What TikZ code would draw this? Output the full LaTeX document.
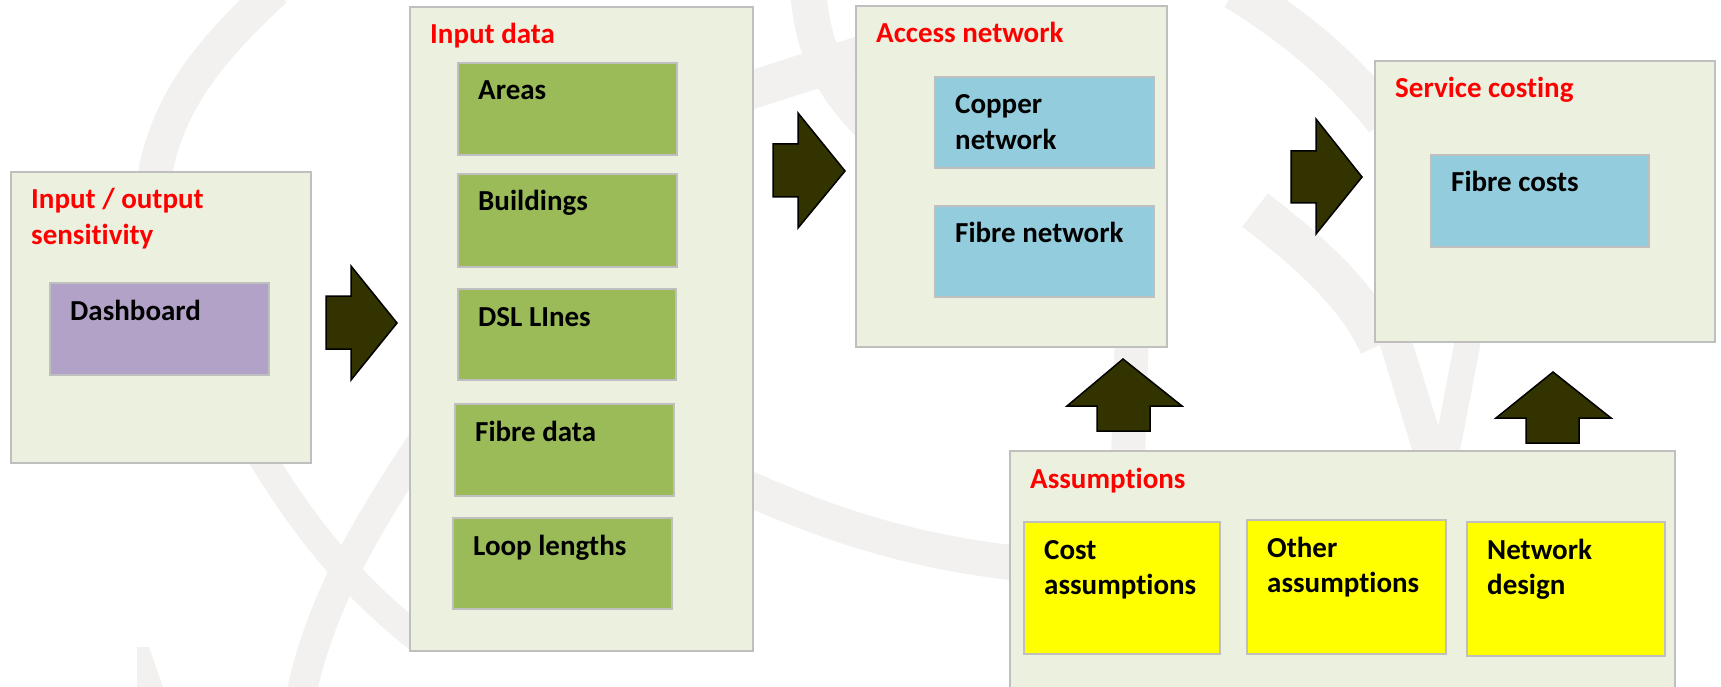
\documentclass[tikz,border=0pt]{standalone}
\usepackage{fontspec}
\setmainfont{Carlito}[Ligatures=NoCommon]

\definecolor{panelfill}{HTML}{EBF0DF}
\definecolor{boxline}{HTML}{BFBFBF}
\definecolor{datagreen}{HTML}{9BBB59}
\definecolor{dashpurple}{HTML}{B3A2C7}
\definecolor{netblue}{HTML}{93CDDD}
\definecolor{assumyellow}{HTML}{FFFF00}
\definecolor{arrowfill}{HTML}{333300}
\definecolor{titlered}{HTML}{FF0000}
\definecolor{wmgray}{HTML}{F2F1F0}

% two stacked lines whose baseline is the first line
\newcommand\twolines[2]{\begin{tabular}[t]{@{}l@{}}#1\\#2\end{tabular}}

% box with its caption: name, box style, text style, x1, y1, x2, y2, caption
\newcommand\boxnode[8]{%
  \node[#2, anchor=north west, minimum width={#6-#4}, minimum height={#7-#5}] (#1) at (#4,#5) {};
  \node[#3, anchor=base west] (#1-text) at ([shift={(20,37)}]#1.north west) {#8};%
}

\begin{document}
\begin{tikzpicture}[x=1pt, y=-1pt,
  wm/.style={draw=wmgray, line width=34, line cap=butt},
  panel/.style={draw=boxline, line width=2, fill=panelfill, inner sep=0, outer sep=0},
  cell/.style={draw=boxline, line width=2, inner sep=0, outer sep=0},
  greencell/.style={cell, fill=datagreen},
  purplecell/.style={cell, fill=dashpurple},
  bluecell/.style={cell, fill=netblue},
  yellowcell/.style={cell, fill=assumyellow},
  basetext/.style={inner sep=0, font=\fontsize{29}{35.5}\selectfont\bfseries},
  titletext/.style={basetext, text=titlered},
  celltext/.style={basetext, text=black},
  blockarrow/.style={draw=black, line width=1.5, fill=arrowfill, line join=miter}]

\useasboundingbox (0,0) rectangle (1721,687);

\begin{scope}
\clip (0,0) rectangle (1721,687);

% faint logo bands in the background
\draw[wm] (275,-10) .. controls (200,60) and (150,120) .. (150,230);
\draw[wm, line width=28] (240,420) .. controls (280,490) and (330,570) .. (420,640);
\draw[wm, line width=30] (430,430) .. controls (370,520) and (320,600) .. (300,700);
\fill[wmgray] (137,647) -- (149,647) -- (163,687) -- (137,687) -- cycle;
\draw[wm, line width=36] (808,-10) .. controls (812,40) and (825,80) .. (870,125);
\draw[wm, line width=38] (745,92) -- (870,52);
\draw[wm, line width=35] (740,485) .. controls (820,520) and (900,550) .. (1015,563);
\draw[wm, line width=40] (1235,-10) .. controls (1300,30) and (1345,70) .. (1385,120);
\draw[wm, line width=42] (1255,210) .. controls (1320,260) and (1360,300) .. (1380,345);
\draw[wm] (1132,330) -- (1128,460);
\draw[wm, line width=32] (1392,330) -- (1432,460);
\draw[wm, line width=26] (1470,330) -- (1445,460);

% input / output sensitivity
\boxnode{io}{panel}{titletext}{11}{172}{311}{463}{\twolines{Input / output}{sensitivity}}
\boxnode{dash}{purplecell}{celltext}{50}{283}{269}{375}{Dashboard}

% input data
\boxnode{inp}{panel}{titletext}{410}{7}{753}{651}{Input data}
\boxnode{areas}{greencell}{celltext}{458}{63}{677}{155}{Areas}
\boxnode{build}{greencell}{celltext}{458}{174}{677}{267}{Buildings}
\boxnode{dsl}{greencell}{celltext}{458}{289}{676}{380}{DSL LInes}
\boxnode{fibd}{greencell}{celltext}{455}{404}{674}{496}{Fibre data}
\boxnode{loop}{greencell}{celltext}{453}{518}{672}{609}{Loop lengths}

% access network
\boxnode{acc}{panel}{titletext}{856}{6}{1167}{347}{Access network}
\boxnode{copper}{bluecell}{celltext}{935}{77}{1154}{168}{\twolines{Copper}{network}}
\boxnode{fibn}{bluecell}{celltext}{935}{206}{1154}{297}{Fibre network}

% service costing
\boxnode{svc}{panel}{titletext}{1375}{61}{1715}{342}{Service costing}
\boxnode{fcost}{bluecell}{celltext}{1431}{155}{1649}{247}{Fibre costs}

% assumptions
\boxnode{asm}{panel}{titletext}{1010}{451}{1675}{705}{Assumptions}
\boxnode{cost}{yellowcell}{celltext}{1024}{522}{1220}{654}{\twolines{Cost}{assumptions}}
\boxnode{other}{yellowcell}{celltext}{1247}{520}{1446}{654}{\twolines{Other}{assumptions}}
\boxnode{netd}{yellowcell}{celltext}{1467}{522}{1665}{656}{\twolines{Network}{design}}

% block arrows between the stages
\draw[blockarrow] (326,296) -- (351,296) -- (351,266) -- (397,323) -- (351,380) -- (351,349) -- (326,349) -- cycle;
\draw[blockarrow] (773,144) -- (798,144) -- (798,113) -- (845,171) -- (798,228) -- (798,197) -- (773,197) -- cycle;
\draw[blockarrow] (1291,151) -- (1316,151) -- (1316,119) -- (1362,177) -- (1316,234) -- (1316,203) -- (1291,203) -- cycle;
\draw[blockarrow] (1097,431) -- (1097,406) -- (1067,406) -- (1123,359) -- (1182,406) -- (1150,406) -- (1150,431) -- cycle;
\draw[blockarrow] (1526,443) -- (1526,418) -- (1496,418) -- (1553,372) -- (1611,418) -- (1579,418) -- (1579,443) -- cycle;
\end{scope}
\end{tikzpicture}
\end{document}
